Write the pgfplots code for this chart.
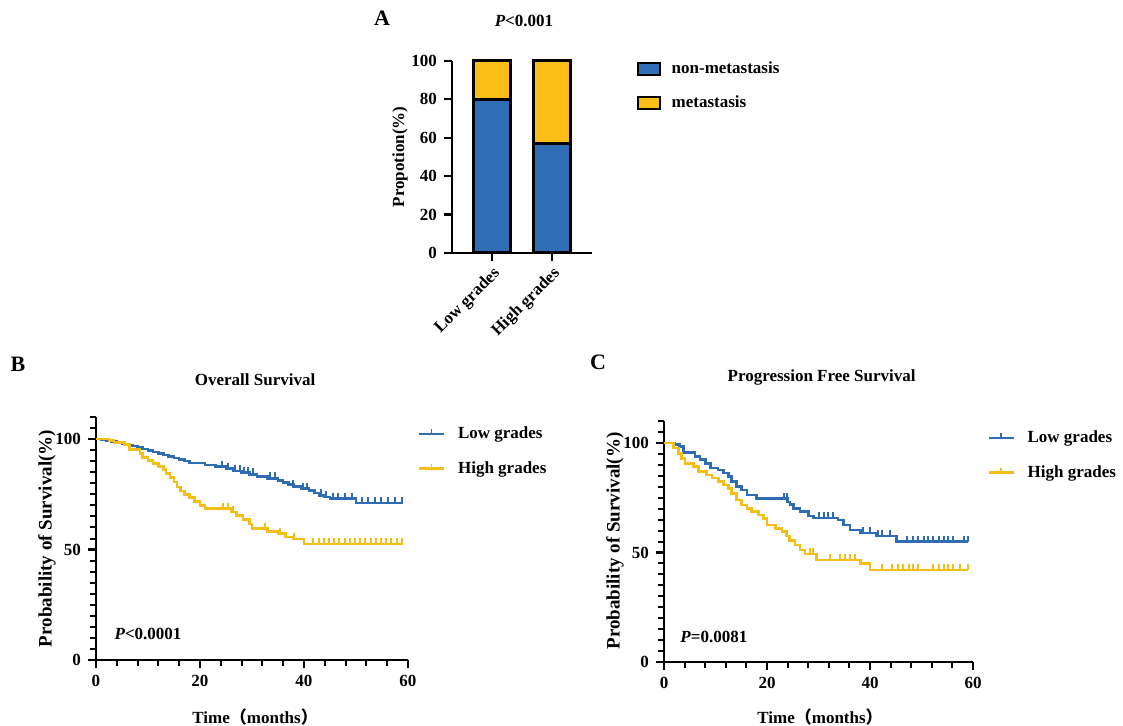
\documentclass[border=0pt]{standalone}
\usepackage{fontspec}
\setmainfont{Liberation Serif}
\newfontfamily\cjk{Noto Sans CJK SC}
\usepackage{pgfplots}
\pgfplotsset{compat=1.18}
\definecolor{kmblue}{RGB}{46,108,180}
\definecolor{kmyellow}{RGB}{245,190,20}
\definecolor{barblue}{RGB}{46,110,182}
\definecolor{baryellow}{RGB}{250,190,22}

% censoring tick: drawn upward from the curve
\pgfdeclareplotmark{cens}{\pgfpathmoveto{\pgfpointorigin}\pgfpathlineto{\pgfpoint{0pt}{3pt}}\pgfusepathqstroke}

\pgfplotsset{
  every axis/.append style={
    font=\fontsize{8.5}{10}\selectfont\bfseries,
    /pgf/number format/assume math mode=true,
    scale only axis,
    axis x line*=bottom, axis y line*=left,
    axis line style={line width=1.2pt,-},
    tick align=outside,
    major tick length=4pt, minor tick length=3pt,
    tick style={line width=1.1pt, black},
    minor tick style={line width=1pt, black},
    clip=false,
  },
  km/.style={
    xmin=0, xmax=60, ymin=0, ymax=110,
    xtick={0,20,40,60}, minor x tick num=4,
    ytick={0,50,100}, minor ytick={0,5,...,110},
    legend cell align=left,
    legend image code/.code={
      \draw[##1,mark=none] (0pt,0pt) -- (12.5pt,0pt);
      \draw[##1,mark=none,line width=0.9pt] (6.25pt,0pt) -- (6.25pt,2.4pt);
      \path[draw=none,fill=none] (12.5pt,0pt) -- (17.5pt,0pt);},
    ylabel style={font=\fontsize{9.5}{11}\selectfont\bfseries, anchor=center},
  },
  curve/.style={const plot, line width=1.3pt},
  censor/.style={only marks, mark=cens, mark options={line width=1pt}, forget plot},
}

\begin{document}
\begin{tikzpicture}
\useasboundingbox (0pt,0pt) rectangle (561.5pt,-363pt);

% ---------------- A ----------------
\node[font=\fontsize{11}{12}\selectfont\bfseries] at (191pt,-9pt) {A};
\begin{axis}[
    at={(226pt,-126.5pt)}, anchor=south west,
    width=70pt, height=96pt,
    ybar stacked, bar width=18.5pt,
    xmin=-0.667, xmax=1.667, ymin=0, ymax=100,
    xtick={0,1}, xticklabels={Low grades,High grades},
    xticklabel style={rotate=45, anchor=north east, inner sep=1.5pt},
    ytick={0,20,...,100},
    ylabel={Propotion(\%)},
    ylabel style={at={(axis description cs:-0.371,0.5)}, anchor=center},
    title={\textit{P}<0.001},
    title style={at={(axis description cs:0.514,1.146)}, anchor=center},
    legend cell align=left,
    legend style={draw=none, fill=none, at={(axis description cs:1.315,1.02)},
      anchor=north west, row sep=5.5pt, inner sep=0pt, nodes={inner sep=2pt}},
    legend image code/.code={\draw[#1,line width=1.2pt] (0pt,-3pt) rectangle (11pt,3pt);
      \path[draw=none,fill=none] (11pt,0pt) -- (15pt,0pt);},
  ]
  \addplot[fill=barblue, draw=black, line width=1.5pt] coordinates {(0,80) (1,57)};
  \addplot[fill=baryellow, draw=black, line width=1.5pt] coordinates {(0,20) (1,43)};
  \legend{non-metastasis, metastasis}
\end{axis}

% ---------------- B ----------------
\node[font=\fontsize{11}{12}\selectfont\bfseries] at (9pt,-182pt) {B};
\begin{axis}[km,
    at={(48pt,-330pt)}, anchor=south west,
    width=156pt, height=121.5pt,
    title={Overall Survival},
    title style={at={(axis description cs:0.51,1.103)}, anchor=center},
    xlabel={Time{\cjk （}months{\cjk ）}},
    xlabel style={at={(axis description cs:0.51,-0.235)}, anchor=center},
    ylabel={Probability of Survival(\%)},
    ylabel style={at={(axis description cs:-0.157,0.50)}},
    legend style={draw=none, fill=none, at={(axis description cs:1.03,0.979)},
      anchor=north west, row sep=6pt, inner sep=0pt, nodes={inner sep=2pt}},
  ]
  \addplot[curve, kmblue] coordinates {
    (0,100) (1,99.6) (2,99.2) (3,98.8) (4,98.3) (5,97.8) (6,97.3) (7,96.8)
    (8,96.2) (9,95.5) (10,94.8) (11,94.2) (12,93.5) (13,92.8) (14,92.2)
    (15,91.5) (16,90.8) (17,90.1) (18,89.1) (21,88.3) (23,87.5) (25,86.6)
    (26.5,85.6) (28,84.8) (29.5,84) (31,83.0) (33,82.2) (35,81.3) (36,80.4)
    (37,79.4) (38,78.6) (39.5,77.6) (41,76.6) (42,75.6) (43,74.6) (44,73.8)
    (45,73.0) (50,71.0) (59,71.0)};
  \addplot[curve, kmyellow] coordinates {
    (0,100) (2.5,99.3) (3.5,98.4) (5.5,97.6) (6.5,95.2) (8.5,93.5) (9,91.6)
    (10,90.3) (11,88.9) (12,87.5) (13,86.3) (13.5,84.5) (14.2,82.7) (15,80.5)
    (15.6,78.4) (16.3,76.5) (17,74.8) (18,73.6) (19,71.7) (20,70) (21,68.5)
    (26,67) (27,65.4) (28.3,63.7) (29.5,61.5) (30,59.5) (33,58.3) (35,57.2)
    (36.5,55.7) (38,54.8) (40,52.5) (59,52.5)};
  \addplot[censor, kmblue] coordinates {
    (24.2,87.5) (25.3,86.6) (26.8,85.6) (27.6,85.6) (28.4,84.8) (29.3,84.8)
    (30.2,84) (33.5,82.2) (34.4,82.2) (37.9,78.6) (39.9,77.6) (40.5,77.6)
    (43.3,74.6) (44.3,73.8) (45.6,73) (46.6,73) (47.9,73) (49.2,73)
    (51.1,71) (52.4,71) (53.6,71) (54.9,71) (56.2,71) (57.5,71) (58.8,71)};
  \addplot[censor, kmyellow] coordinates {
    (24.5,68.5) (25.4,68.5) (26.3,67) (32.5,59.5) (35.4,57.2) (38.1,54.8)
    (41.8,52.5) (42.8,52.5) (43.8,52.5) (44.8,52.5) (45.8,52.5) (46.8,52.5)
    (47.8,52.5) (48.8,52.5) (49.8,52.5) (50.8,52.5) (51.8,52.5) (52.8,52.5)
    (53.8,52.5) (54.8,52.5) (55.8,52.5) (56.8,52.5) (57.8,52.5) (58.8,52.5)};
  \legend{Low grades, High grades}
  \node at (axis cs:10,11.8) {\textit{P}<0.0001};
\end{axis}

% ---------------- C ----------------
\node[font=\fontsize{11}{12}\selectfont\bfseries] at (299pt,-181pt) {C};
\begin{axis}[km,
    at={(332pt,-331pt)}, anchor=south west,
    width=154.5pt, height=120.5pt,
    title={Progression Free Survival},
    title style={at={(axis description cs:0.51,1.129)}, anchor=center},
    xlabel={Time{\cjk （}months{\cjk ）}},
    xlabel style={at={(axis description cs:0.505,-0.228)}, anchor=center},
    ylabel={Probability of Survival(\%)},
    ylabel style={at={(axis description cs:-0.159,0.502)}},
    legend style={draw=none, fill=none, at={(axis description cs:1.045,0.979)},
      anchor=north west, row sep=6pt, inner sep=0pt, nodes={inner sep=2pt}},
  ]
  \addplot[curve, kmblue] coordinates {
    (0,100) (2,99.3) (3,98.3) (3.8,95.5) (6,93.9) (7,92.3) (8,90.7) (9,88.6)
    (10.5,87.7) (11.5,86.2) (12.5,84.6) (13.1,82.4) (14.1,80.1) (15.1,78.5)
    (16.1,76.3) (18,74.5) (24,73) (24.5,72) (25.1,70.2) (26.4,68.7) (28,66.6)
    (29,65.8) (33.8,64.8) (34.8,62.6) (36.1,60.3) (38.1,58.8) (41.3,57.6)
    (45.2,55.0) (59,55.0)};
  \addplot[curve, kmyellow] coordinates {
    (0,100) (1.8,97.6) (2.8,95.3) (3.4,93) (4.1,90.7) (5.7,89.2) (6.7,86.9)
    (8.3,85.4) (9.3,83.9) (10.6,82.3) (11.5,80.8) (12.5,79.3) (13.1,77)
    (14.1,74) (15.1,71.7) (16.1,70.2) (17,68.7) (18.3,67.1) (19.3,65.6)
    (20,62.5) (21.6,61) (22.9,59.5) (23.8,57.5) (24.4,55.5) (25.4,53.4)
    (26.4,51.1) (27.4,49.3) (29.6,46.5) (38.1,45) (40,42) (59,42)};
  \addplot[censor, kmblue] coordinates {
    (23.3,74.5) (23.8,74.5) (30,65.8) (31,65.8) (31.9,65.8) (32.9,65.8)
    (38.7,58.8) (40,58.8) (41.5,57.6) (42.3,57.6) (43.9,57.6)
    (47.1,55) (48.4,55) (49.4,55) (50.4,55) (51.3,55) (52.3,55) (53.3,55)
    (54.3,55) (55.2,55) (56.2,55) (58.2,55) (59,55)};
  \addplot[censor, kmyellow] coordinates {
    (28.3,49.3) (29.0,49.3) (32.2,46.5) (34.2,46.5) (35.2,46.5) (36.1,46.5)
    (37.1,46.5) (42.3,42) (44.2,42) (45.5,42) (46.5,42) (47.5,42) (48.4,42)
    (49.4,42) (52.3,42) (53.3,42) (54.3,42) (55.2,42) (56.2,42) (57.5,42) (59,42)};
  \legend{Low grades, High grades}
  \node at (axis cs:9.7,11.4) {\textit{P}=0.0081};
\end{axis}
\end{tikzpicture}
\end{document}
